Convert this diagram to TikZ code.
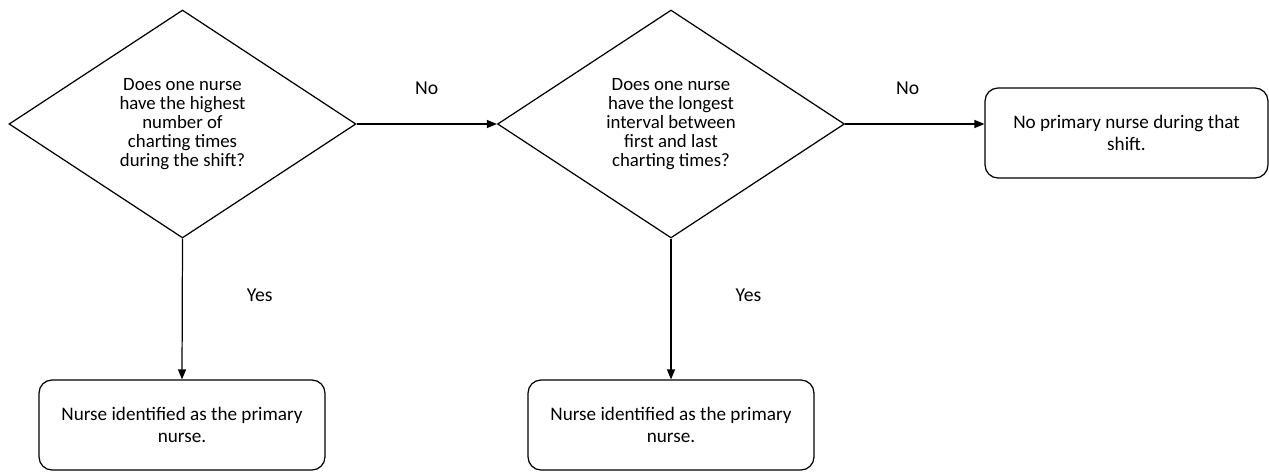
\documentclass[tikz,border=0pt]{standalone}
\usepackage{fontspec}
\setmainfont{Carlito}
\usetikzlibrary{shapes.geometric,arrows.meta}

\begin{document}
\begin{tikzpicture}[x=0.02cm, y=-0.02cm,
    question/.style={draw, line width=0.7pt, shape=diamond, inner sep=0pt,
        minimum width=6.94cm, minimum height=4.56cm, align=center,
        font=\fontsize{10.7pt}{10.9pt}\selectfont},
    outcome/.style={draw, line width=0.7pt, rounded corners=0.26cm, align=center,
        minimum height=1.8cm, font=\fontsize{10.9pt}{12.4pt}\selectfont},
    flow/.style={line width=0.7pt, -{Triangle[length=0.2cm, width=0.16cm]}},
    answer/.style={inner sep=0pt, font=\fontsize{11.2pt}{12pt}\selectfont}]
    \useasboundingbox (0,0) rectangle (1269,471);

    \node[question] (charting) at (182.5,124) {Does one nurse\\have the highest\\number of\\charting times\\during the shift?};
    \node[question] (interval) at (671,124) {Does one nurse\\have the longest\\interval between\\first and last\\charting times?};

    \node[outcome, minimum width=5.72cm] (primaryA) at (182,425) {Nurse identified as the primary\\nurse.};
    \node[outcome, minimum width=5.72cm] (primaryB) at (671,425) {Nurse identified as the primary\\nurse.};
    \node[outcome, minimum width=5.66cm] (noprimary) at (1126.5,133) {No primary nurse during that\\shift.};

    \draw[flow] (charting.east) -- node[answer, above=0.58cm] {No} (interval.west);
    \draw[flow] (interval.east) -- node[answer, above=0.58cm, xshift=-0.14cm] {No} (noprimary.west |- interval.east);
    \draw[flow] (charting.south) -- node[answer, pos=0.4, right=1.28cm] {Yes} (primaryA.north);
    \draw[flow] (interval.south) -- node[answer, pos=0.4, right=1.28cm] {Yes} (primaryB.north);
\end{tikzpicture}
\end{document}
